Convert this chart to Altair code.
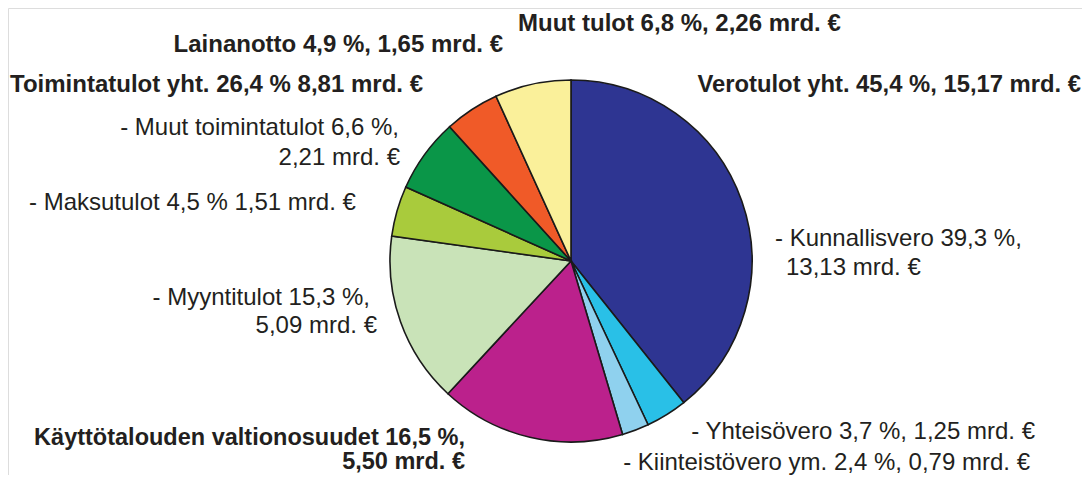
import altair as alt
import pandas as pd

# Data
categories = ["Kunnallisvero", "Yhteisövero", "Kiinteistövero ym.",
              "Käyttötalouden valtionosuudet", "Myyntitulot", "Maksutulot",
              "Muut toimintatulot", "Lainanotto", "Muut tulot"]
shares = [39.3, 3.7, 2.4, 16.5, 15.3, 4.5, 6.6, 4.9, 6.8]
billions = [13.13, 1.25, 0.79, 5.50, 5.09, 1.51, 2.21, 1.65, 2.26]
colors = ["#2e3592", "#29c0e7", "#8fd1ee", "#bb218c", "#c9e3b8",
          "#a9cb3c", "#0a9648", "#f05a28", "#faf09a"]

df = pd.DataFrame({"cat": categories, "share": shares, "mrd": billions,
                   "order": list(range(len(categories)))})

CX, CY, R = 563, 253, 181
TXT = "#231f20"
FONT = "Liberation Sans"

pie = alt.Chart(df).mark_arc(outerRadius=R, stroke="#1a1a1a", strokeWidth=1.6).encode(
    theta=alt.Theta("share:Q", stack=True),
    order=alt.Order("order:Q"),
    color=alt.Color("cat:N", scale=alt.Scale(domain=categories, range=colors), legend=None),
    x=alt.value(CX), y=alt.value(CY),
)

def label(text, x, y, align="left", bold=False, size=24):
    return alt.Chart(pd.DataFrame({"t": [text]})).mark_text(
        align=align, baseline="alphabetic", font=FONT, fontSize=size,
        fontWeight="bold" if bold else "normal", color=TXT,
    ).encode(text="t:N", x=alt.value(x), y=alt.value(y))

O = 8  # page margin offset
labels = [
    label("Muut tulot 6,8 %, 2,26 mrd. €", 518 - O, 31 - O, "left", True),
    label("Lainanotto 4,9 %, 1,65 mrd. €", 503 - O, 52 - O, "right", True),
    label("Toimintatulot yht. 26,4 % 8,81 mrd. €", 423 - O, 92 - O, "right", True),
    label("Verotulot yht. 45,4 %, 15,17 mrd. €", 1081 - O, 92 - O, "right", True, 23.8),
    label("- Muut toimintatulot 6,6 %,", 399 - O, 135 - O, "right"),
    label("2,21 mrd. €", 400 - O, 165 - O, "right"),
    label("- Maksutulot 4,5 % 1,51 mrd. €", 29 - O, 210 - O, "left"),
    label("- Kunnallisvero 39,3 %,", 775 - O, 246 - O, "left"),
    label("13,13 mrd. €", 786 - O, 275 - O, "left"),
    label("- Myyntitulot 15,3 %,", 370 - O, 305 - O, "right"),
    label("5,09 mrd. €", 377 - O, 333 - O, "right"),
    label("Käyttötalouden valtionosuudet 16,5 %,", 465 - O, 445 - O, "right", True, 23.5),
    label("5,50 mrd. €", 465 - O, 469 - O, "right", True, 23.5),
    label("- Yhteisövero 3,7 %, 1,25 mrd. €", 1035 - O, 439 - O, "right"),
    label("- Kiinteistövero ym. 2,4 %, 0,79 mrd. €", 1030 - O, 470 - O, "right"),
]

chart = alt.layer(pie, *labels).properties(
    width=1074, height=467, padding=0,
    autosize=alt.AutoSizeParams(type="none"),
).configure_view(stroke=None).configure(background="white")

chart.save("out.html", embed_options={"renderer": "svg", "actions": False})
